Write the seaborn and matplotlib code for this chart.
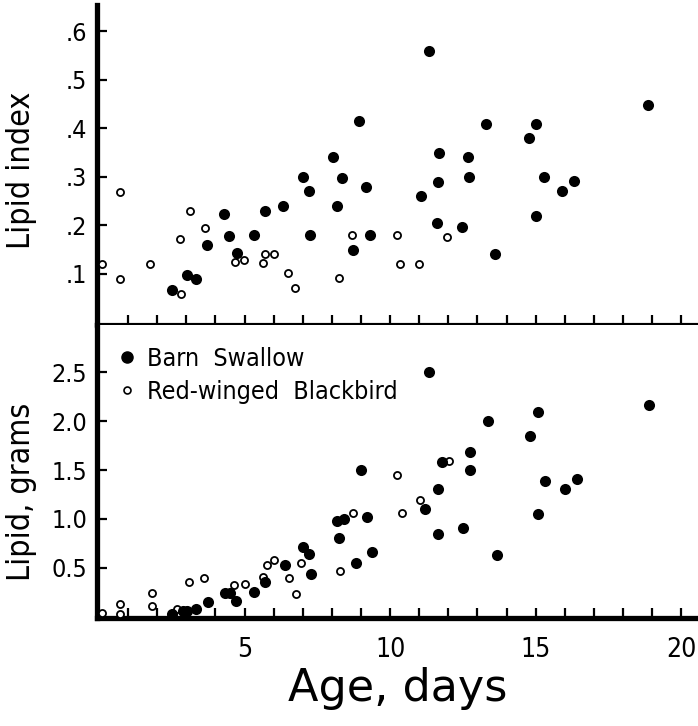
#!/usr/bin/env python3

import matplotlib
matplotlib.use("Agg")
import matplotlib.pyplot as plt
import seaborn as sns
from matplotlib.lines import Line2D

# Lipid index vs age (upper panel)
bs_age_index = [2.50, 3.02, 3.33, 3.70, 4.29, 4.48, 4.73, 5.33, 5.71, 6.31,
                7.00, 7.22, 7.25, 8.05, 8.16, 8.36, 8.74, 8.94, 9.17, 9.30,
                11.06, 11.32, 11.62, 11.63, 11.69, 12.47, 12.69, 12.72, 13.30,
                13.61, 14.76, 15.02, 15.02, 15.28, 15.92, 16.31, 18.85]
bs_lipid_index = [0.067, 0.097, 0.089, 0.160, 0.224, 0.179, 0.142, 0.180,
                  0.229, 0.239, 0.299, 0.270, 0.181, 0.340, 0.240, 0.297,
                  0.150, 0.415, 0.280, 0.181, 0.260, 0.560, 0.205, 0.289,
                  0.350, 0.197, 0.340, 0.300, 0.409, 0.140, 0.380, 0.409,
                  0.219, 0.300, 0.270, 0.291, 0.449]
rwb_age_index = [0.10, 0.71, 0.71, 1.75, 2.78, 2.82, 3.13, 3.64, 4.68, 4.99,
                 5.62, 5.70, 6.00, 6.50, 6.73, 8.25, 8.68, 10.25, 10.35,
                 10.98, 11.95]
rwb_lipid_index = [0.120, 0.269, 0.090, 0.120, 0.171, 0.058, 0.229, 0.194,
                   0.124, 0.128, 0.122, 0.140, 0.140, 0.102, 0.071, 0.091,
                   0.181, 0.180, 0.120, 0.120, 0.175]

# Lipid in grams vs age (lower panel)
bs_age_grams = [2.50, 2.87, 3.02, 3.33, 3.74, 4.33, 4.51, 4.71, 5.34, 5.70,
                6.39, 7.02, 7.23, 7.28, 8.16, 8.23, 8.40, 8.83, 9.01, 9.20,
                9.37, 11.21, 11.35, 11.66, 11.66, 11.80, 12.52, 12.74, 12.75,
                13.37, 13.67, 14.81, 15.08, 15.09, 15.31, 16.00, 16.41, 18.91]
bs_lipid_grams = [0.03, 0.055, 0.064, 0.082, 0.156, 0.248, 0.242, 0.167,
                  0.259, 0.354, 0.531, 0.718, 0.640, 0.439, 0.983, 0.81, 1.00,
                  0.548, 1.50, 1.024, 0.660, 1.099, 2.503, 1.306, 0.847,
                  1.579, 0.911, 1.687, 1.497, 2.003, 0.633, 1.847, 1.051,
                  2.095, 1.388, 1.303, 1.405, 2.170]
rwb_age_grams = [0.10, 0.72, 0.72, 1.81, 1.81, 2.69, 3.10, 3.60, 4.62, 5.03,
                 5.62, 5.76, 6.02, 6.51, 6.76, 6.93, 8.29, 8.74, 10.25,
                 10.42, 11.03, 12.04]
rwb_lipid_grams = [0.044, 0.133, 0.030, 0.240, 0.115, 0.079, 0.354, 0.398,
                   0.323, 0.333, 0.408, 0.531, 0.582, 0.395, 0.235, 0.548,
                   0.473, 1.061, 1.446, 1.058, 1.194, 1.595]

index_ticks = [0.1, 0.2, 0.3, 0.4, 0.5, 0.6]
index_labels = [".1", ".2", ".3", ".4", ".5", ".6"]
grams_ticks = [0.5, 1.0, 1.5, 2.0, 2.5]
grams_labels = ["0.5", "1.0", "1.5", "2.0", "2.5"]
day_ticks = list(range(1, 21))
day_labels = [str(d) if d % 5 == 0 else "" for d in day_ticks]

sns.set_style("ticks", {"axes.edgecolor": "black", "text.color": "black",
                        "xtick.color": "black", "ytick.color": "black",
                        "axes.labelcolor": "black"})
plt.rcParams["font.family"] = ["DejaVu Sans"]
plt.rcParams["font.stretch"] = "condensed"

fig = plt.figure(figsize=(6.98, 7.26), dpi=100)
ax1 = fig.add_axes([0.139, 0.552, 0.861, 0.441])
ax2 = fig.add_axes([0.139, 0.149, 0.861, 0.403])


def draw_points(ax, bs_x, bs_y, rwb_x, rwb_y):
    # Red-winged Blackbird: small open circles
    sns.scatterplot(x=rwb_x, y=rwb_y, marker="o", s=26, color="white",
                    edgecolor="black", linewidth=1.3, zorder=3, ax=ax)
    # Barn Swallow: filled circles
    sns.scatterplot(x=bs_x, y=bs_y, marker="o", s=64, color="black",
                    edgecolor="black", linewidth=0, zorder=4, ax=ax)


draw_points(ax1, bs_age_index, bs_lipid_index, rwb_age_index, rwb_lipid_index)
draw_points(ax2, bs_age_grams, bs_lipid_grams, rwb_age_grams, rwb_lipid_grams)

# Upper panel
ax1.set_xlim(-0.07, 20.58)
ax1.set_ylim(-0.006, 0.654)
ax1.set_yticks(index_ticks)
ax1.set_yticklabels(index_labels)
ax1.set_xticks(day_ticks)
ax1.set_xticklabels([])
ax1.spines["top"].set_visible(False)
ax1.spines["right"].set_visible(False)
ax1.spines["left"].set_linewidth(3.8)
ax1.spines["bottom"].set_linewidth(3.0)
ax1.tick_params(axis="both", direction="in", width=1.6, length=7,
                labelsize=18, pad=7)
ax1.set_ylabel("Lipid index", fontsize=23)
ax1.yaxis.set_label_coords(-0.10, 0.485)

# Lower panel
ax2.set_xlim(-0.07, 20.58)
ax2.set_ylim(-0.01, 2.98)
ax2.set_yticks(grams_ticks)
ax2.set_yticklabels(grams_labels)
ax2.set_xticks(day_ticks)
ax2.set_xticklabels(day_labels)
ax2.spines["top"].set_visible(False)
ax2.spines["right"].set_visible(False)
ax2.spines["left"].set_linewidth(3.8)
ax2.spines["bottom"].set_linewidth(3.8)
ax2.tick_params(axis="both", direction="in", width=1.6, length=7,
                labelsize=18, pad=7)
ax2.tick_params(axis="x", labelsize=19, pad=14)
ax2.set_ylabel("Lipid, grams", fontsize=23)
ax2.yaxis.set_label_coords(-0.10, 0.43)
ax2.set_xlabel("Age, days", fontsize=32, fontstretch="normal", labelpad=3)

# Legend
handles = [
    Line2D([], [], marker="o", linestyle="", markersize=8,
           markerfacecolor="black", markeredgecolor="black"),
    Line2D([], [], marker="o", linestyle="", markersize=5,
           markerfacecolor="white", markeredgecolor="black",
           markeredgewidth=1.2),
]
ax2.legend(handles, ["Barn  Swallow", "Red-winged  Blackbird"],
           loc="upper left", bbox_to_anchor=(0.0, 0.985), frameon=False,
           fontsize=18, handletextpad=0.3, handlelength=1.0,
           labelspacing=0.35, borderaxespad=0.3)

plt.savefig("out.png", dpi=100)
